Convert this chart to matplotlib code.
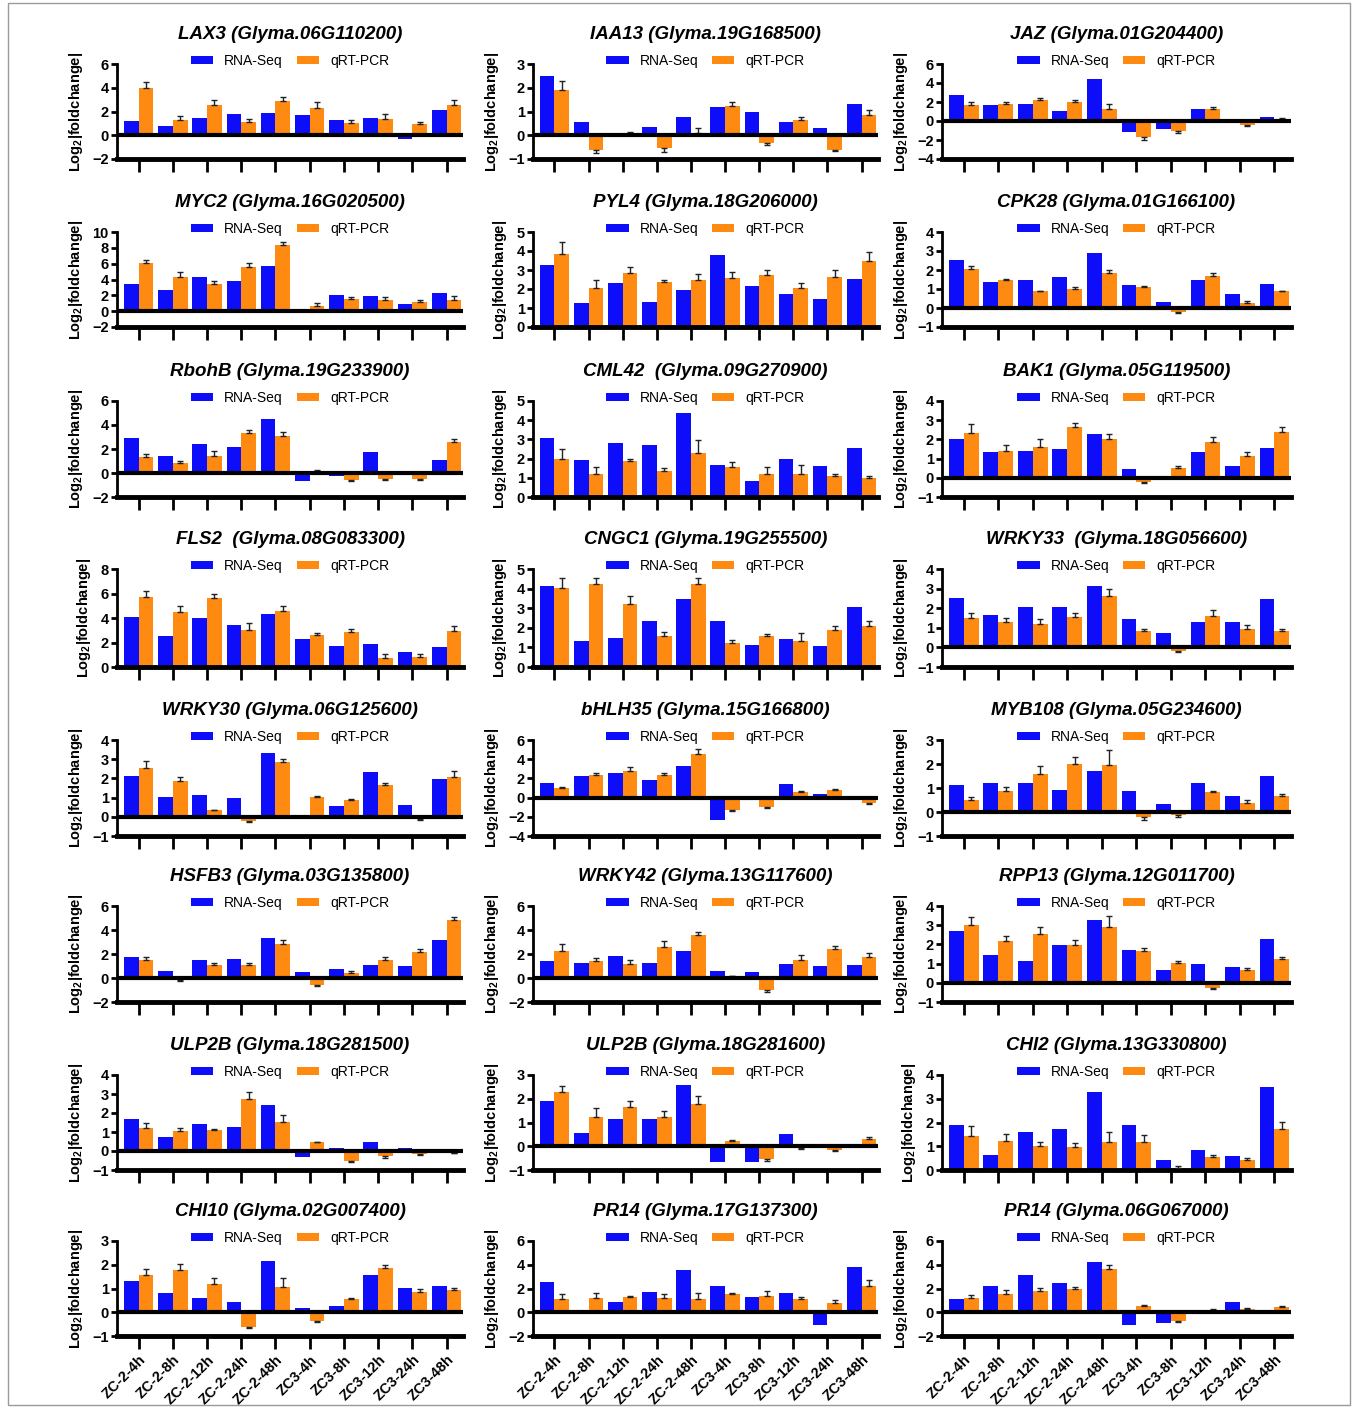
import matplotlib
matplotlib.use("Agg")
import matplotlib.pyplot as plt
from matplotlib.patches import Rectangle
import numpy as np

samples = ["ZC-2-4h", "ZC-2-8h", "ZC-2-12h", "ZC-2-24h", "ZC-2-48h",
           "ZC3-4h", "ZC3-8h", "ZC3-12h", "ZC3-24h", "ZC3-48h"]

# log2 fold change: RNA-Seq, qRT-PCR mean, qRT-PCR error
lax3_rna = [1.24, 0.77, 1.43, 1.8, 1.88, 1.74, 1.27, 1.43, -0.35, 2.15]
lax3_qpcr = [3.95, 1.3, 2.57, 1.1, 2.85, 2.3, 1.02, 1.4, 0.97, 2.57]
lax3_err = [0.55, 0.35, 0.38, 0.28, 0.38, 0.46, 0.25, 0.4, 0.13, 0.38]

iaa13_rna = [2.48, 0.57, 0.07, 0.35, 0.77, 1.19, 0.99, 0.56, 0.32, 1.32]
iaa13_qpcr = [1.9, -0.6, 0.08, -0.55, 0.08, 1.24, -0.33, 0.65, -0.6, 0.84]
iaa13_err = [0.37, 0.15, 0.07, 0.17, 0.24, 0.15, 0.09, 0.13, 0.06, 0.23]

jaz_rna = [2.72, 1.64, 1.81, 1.01, 4.46, -1.15, -0.8, 1.29, 0.17, 0.45]
jaz_qpcr = [1.67, 1.78, 2.2, 1.95, 1.25, -1.7, -1.0, 1.22, -0.4, 0.17]
jaz_err = [0.35, 0.21, 0.27, 0.31, 0.56, 0.3, 0.25, 0.28, 0.15, 0.13]

myc2_rna = [3.4, 2.72, 4.34, 3.79, 5.74, -0.2, 2.0, 1.87, 0.94, 2.3]
myc2_qpcr = [6.04, 4.34, 3.4, 5.6, 8.34, 0.68, 1.49, 1.36, 1.19, 1.45]
myc2_err = [0.43, 0.64, 0.43, 0.5, 0.46, 0.32, 0.3, 0.43, 0.26, 0.42]

pyl4_rna = [3.25, 1.25, 2.3, 1.3, 1.95, 3.8, 2.15, 1.75, 1.5, 2.55]
pyl4_qpcr = [3.85, 2.05, 2.85, 2.35, 2.45, 2.6, 2.75, 2.05, 2.65, 3.5]
pyl4_err = [0.65, 0.45, 0.3, 0.15, 0.35, 0.3, 0.25, 0.25, 0.35, 0.45]

cpk28_rna = [2.55, 1.35, 1.45, 1.65, 2.9, 1.2, 0.32, 1.48, 0.75, 1.28]
cpk28_qpcr = [2.05, 1.45, 0.87, 1.0, 1.83, 1.1, -0.22, 1.68, 0.25, 0.87]
cpk28_err = [0.15, 0.07, 0.03, 0.1, 0.17, 0.08, 0.06, 0.14, 0.1, 0.03]

rbohb_rna = [2.9, 1.45, 2.45, 2.2, 4.5, -0.7, -0.25, 1.75, 0.0, 1.05]
rbohb_qpcr = [1.35, 0.8, 1.45, 3.3, 3.05, 0.15, -0.6, -0.5, -0.5, 2.55]
rbohb_err = [0.25, 0.2, 0.35, 0.3, 0.35, 0.07, 0.1, 0.1, 0.1, 0.3]

cml42_rna = [3.05, 1.95, 2.8, 2.7, 4.4, 1.65, 0.85, 2.0, 1.6, 2.55]
cml42_qpcr = [1.98, 1.22, 1.85, 1.37, 2.28, 1.55, 1.2, 1.22, 1.1, 0.97]
cml42_err = [0.52, 0.35, 0.12, 0.15, 0.67, 0.25, 0.35, 0.43, 0.1, 0.1]

bak1_rna = [2.0, 1.35, 1.4, 1.5, 2.27, 0.47, 0.0, 1.32, 0.62, 1.55]
bak1_qpcr = [2.35, 1.4, 1.62, 2.65, 2.0, -0.2, 0.53, 1.88, 1.12, 2.37]
bak1_err = [0.43, 0.3, 0.41, 0.2, 0.3, 0.05, 0.09, 0.22, 0.21, 0.25]

fls2_rna = [4.05, 2.5, 4.0, 3.4, 4.3, 2.25, 1.68, 1.9, 1.25, 1.62]
fls2_qpcr = [5.72, 4.5, 5.65, 2.98, 4.55, 2.58, 2.83, 0.72, 0.85, 2.97]
fls2_err = [0.48, 0.45, 0.35, 0.6, 0.45, 0.2, 0.25, 0.33, 0.2, 0.38]

cngc1_rna = [4.15, 1.35, 1.5, 2.35, 3.45, 2.37, 1.12, 1.45, 1.07, 3.05]
cngc1_qpcr = [4.02, 4.22, 3.22, 1.58, 4.25, 1.25, 1.58, 1.33, 1.9, 2.08]
cngc1_err = [0.53, 0.33, 0.4, 0.19, 0.3, 0.13, 0.09, 0.42, 0.17, 0.27]

wrky33_rna = [2.5, 1.65, 2.05, 2.05, 3.15, 1.45, 0.72, 1.3, 1.3, 2.47]
wrky33_qpcr = [1.52, 1.28, 1.18, 1.55, 2.6, 0.83, -0.2, 1.58, 0.95, 0.83]
wrky33_err = [0.23, 0.2, 0.27, 0.2, 0.37, 0.12, 0.05, 0.35, 0.17, 0.12]

wrky30_rna = [2.1, 1.02, 1.15, 1.0, 3.33, 0.0, 0.55, 2.33, 0.6, 1.97]
wrky30_qpcr = [2.55, 1.88, 0.33, -0.2, 2.88, 1.03, 0.85, 1.65, -0.12, 2.05]
wrky30_err = [0.35, 0.17, 0.05, 0.05, 0.12, 0.07, 0.1, 0.13, 0.05, 0.33]

bhlh35_rna = [1.55, 2.3, 2.6, 1.85, 3.25, -2.35, 0.0, 1.45, 0.42, 0.0]
bhlh35_qpcr = [0.95, 2.35, 2.78, 2.35, 4.5, -1.25, -1.0, 0.58, 0.8, -0.55]
bhlh35_err = [0.17, 0.2, 0.37, 0.25, 0.6, 0.15, 0.1, 0.07, 0.1, 0.13]

myb108_rna = [1.12, 1.22, 1.2, 0.93, 1.7, 0.87, 0.35, 1.2, 0.67, 1.5]
myb108_qpcr = [0.52, 0.88, 1.58, 2.0, 1.97, -0.2, -0.12, 0.83, 0.38, 0.65]
myb108_err = [0.11, 0.17, 0.35, 0.28, 0.61, 0.13, 0.1, 0.05, 0.1, 0.1]

hsfb3_rna = [1.72, 0.62, 1.48, 1.62, 3.3, 0.5, 0.72, 1.07, 0.97, 3.15]
hsfb3_qpcr = [1.5, -0.18, 1.08, 1.1, 2.85, -0.62, 0.45, 1.5, 2.15, 4.8]
hsfb3_err = [0.22, 0.07, 0.17, 0.18, 0.33, 0.08, 0.15, 0.25, 0.27, 0.3]

wrky42_rna = [1.45, 1.22, 1.85, 1.22, 2.22, 0.6, 0.47, 1.15, 1.02, 1.07]
wrky42_qpcr = [2.28, 1.4, 1.18, 2.62, 3.58, 0.15, -1.02, 1.5, 2.38, 1.75]
wrky42_err = [0.52, 0.3, 0.3, 0.48, 0.27, 0.05, 0.18, 0.4, 0.27, 0.3]

rpp13_rna = [2.68, 1.45, 1.15, 1.98, 3.28, 1.72, 0.67, 0.98, 0.82, 2.28]
rpp13_qpcr = [3.02, 2.2, 2.55, 1.97, 2.9, 1.68, 1.05, -0.25, 0.68, 1.22]
rpp13_err = [0.4, 0.22, 0.35, 0.28, 0.58, 0.12, 0.07, 0.07, 0.1, 0.1]

ulp2b_a_rna = [1.68, 0.73, 1.4, 1.25, 2.43, -0.3, 0.15, 0.45, 0.18, 0.0]
ulp2b_a_qpcr = [1.22, 1.05, 1.12, 2.75, 1.53, 0.45, -0.55, -0.25, -0.18, -0.08]
ulp2b_a_err = [0.26, 0.15, 0.05, 0.35, 0.37, 0.05, 0.05, 0.1, 0.04, 0.02]

ulp2b_b_rna = [1.92, 0.55, 1.15, 1.15, 2.58, -0.65, -0.68, 0.52, -0.08, -0.08]
ulp2b_b_qpcr = [2.3, 1.25, 1.65, 1.22, 1.8, 0.22, -0.52, -0.08, -0.15, 0.32]
ulp2b_b_err = [0.25, 0.35, 0.25, 0.25, 0.3, 0.05, 0.1, 0.02, 0.05, 0.05]

chi2_rna = [1.9, 0.65, 1.6, 1.72, 3.3, 1.9, 0.42, 0.85, 0.58, 3.5]
chi2_qpcr = [1.43, 1.23, 1.0, 0.97, 1.2, 1.2, 0.1, 0.53, 0.43, 1.72]
chi2_err = [0.42, 0.29, 0.2, 0.18, 0.4, 0.27, 0.05, 0.12, 0.07, 0.3]

chi10_rna = [1.3, 0.8, 0.62, 0.43, 2.17, 0.2, 0.28, 1.58, 1.02, 1.12]
chi10_qpcr = [1.55, 1.77, 1.18, -0.62, 1.05, -0.37, 0.55, 1.85, 0.85, 0.93]
chi10_err = [0.28, 0.25, 0.27, 0.06, 0.38, 0.03, 0.07, 0.12, 0.12, 0.1]

pr14_a_rna = [2.55, 0.15, 0.9, 1.72, 3.55, 2.18, 1.25, 1.58, -1.1, 3.85]
pr14_a_qpcr = [1.13, 1.2, 1.25, 1.2, 1.1, 1.55, 1.4, 1.1, 0.82, 2.18]
pr14_a_err = [0.37, 0.45, 0.13, 0.35, 0.5, 0.1, 0.35, 0.18, 0.18, 0.52]

pr14_b_rna = [1.12, 2.2, 3.12, 2.5, 4.2, -1.05, -0.88, 0.0, 0.83, 0.0]
pr14_b_qpcr = [1.2, 1.55, 1.75, 1.95, 3.65, 0.52, -0.7, 0.15, 0.3, 0.45]
pr14_b_err = [0.22, 0.3, 0.3, 0.17, 0.35, 0.13, 0.08, 0.1, 0.08, 0.07]

# (gene, locus, rna, qpcr, err, ylim, ytick step)
panels = [
    ("LAX3", "Glyma.06G110200", lax3_rna, lax3_qpcr, lax3_err, (-2, 6), 2),
    ("IAA13", "Glyma.19G168500", iaa13_rna, iaa13_qpcr, iaa13_err, (-1, 3), 1),
    ("JAZ", "Glyma.01G204400", jaz_rna, jaz_qpcr, jaz_err, (-4, 6), 2),
    ("MYC2", "Glyma.16G020500", myc2_rna, myc2_qpcr, myc2_err, (-2, 10), 2),
    ("PYL4", "Glyma.18G206000", pyl4_rna, pyl4_qpcr, pyl4_err, (0, 5), 1),
    ("CPK28", "Glyma.01G166100", cpk28_rna, cpk28_qpcr, cpk28_err, (-1, 4), 1),
    ("RbohB", "Glyma.19G233900", rbohb_rna, rbohb_qpcr, rbohb_err, (-2, 6), 2),
    ("CML42 ", "Glyma.09G270900", cml42_rna, cml42_qpcr, cml42_err, (0, 5), 1),
    ("BAK1", "Glyma.05G119500", bak1_rna, bak1_qpcr, bak1_err, (-1, 4), 1),
    ("FLS2 ", "Glyma.08G083300", fls2_rna, fls2_qpcr, fls2_err, (0, 8), 2),
    ("CNGC1", "Glyma.19G255500", cngc1_rna, cngc1_qpcr, cngc1_err, (0, 5), 1),
    ("WRKY33 ", "Glyma.18G056600", wrky33_rna, wrky33_qpcr, wrky33_err, (-1, 4), 1),
    ("WRKY30", "Glyma.06G125600", wrky30_rna, wrky30_qpcr, wrky30_err, (-1, 4), 1),
    ("bHLH35", "Glyma.15G166800", bhlh35_rna, bhlh35_qpcr, bhlh35_err, (-4, 6), 2),
    ("MYB108", "Glyma.05G234600", myb108_rna, myb108_qpcr, myb108_err, (-1, 3), 1),
    ("HSFB3", "Glyma.03G135800", hsfb3_rna, hsfb3_qpcr, hsfb3_err, (-2, 6), 2),
    ("WRKY42", "Glyma.13G117600", wrky42_rna, wrky42_qpcr, wrky42_err, (-2, 6), 2),
    ("RPP13", "Glyma.12G011700", rpp13_rna, rpp13_qpcr, rpp13_err, (-1, 4), 1),
    ("ULP2B", "Glyma.18G281500", ulp2b_a_rna, ulp2b_a_qpcr, ulp2b_a_err, (-1, 4), 1),
    ("ULP2B", "Glyma.18G281600", ulp2b_b_rna, ulp2b_b_qpcr, ulp2b_b_err, (-1, 3), 1),
    ("CHI2", "Glyma.13G330800", chi2_rna, chi2_qpcr, chi2_err, (0, 4), 1),
    ("CHI10", "Glyma.02G007400", chi10_rna, chi10_qpcr, chi10_err, (-1, 3), 1),
    ("PR14", "Glyma.17G137300", pr14_a_rna, pr14_a_qpcr, pr14_a_err, (-2, 6), 2),
    ("PR14", "Glyma.06G067000", pr14_b_rna, pr14_b_qpcr, pr14_b_err, (-2, 6), 2),
]

BLUE = "#0d0dfa"
ORANGE = "#ff8a12"
W, H = 1357, 1409

# pixel geometry of the grid
col_x = [(117, 463), (533, 878), (942, 1291)]
row_y = [(64, 159), (232, 327), (401, 497), (569, 667),
         (740, 836), (906, 1002), (1075, 1170), (1241, 1336)]

plt.rcParams["font.family"] = ["Liberation Sans", "DejaVu Sans"]
plt.rcParams["mathtext.fontset"] = "custom"
plt.rcParams["mathtext.rm"] = "Liberation Sans"
plt.rcParams["mathtext.it"] = "Liberation Sans:italic:bold"
plt.rcParams["mathtext.bf"] = "Liberation Sans:bold"

fig = plt.figure(figsize=(W / 100, H / 100), dpi=100)
fig.patches.append(Rectangle((8 / W, 1 - 1405 / H), 1342 / W, 1402 / H,
                             transform=fig.transFigure, fill=False,
                             edgecolor="#9a9a9a", lw=1))

x = np.arange(len(samples))
bw = 0.43

for k, (gene, locus, rna, qpcr, err, ylim, step) in enumerate(panels):
    r, c = divmod(k, 3)
    x0, x1 = col_x[c]
    y0, y1 = row_y[r]
    ax = fig.add_axes([x0 / W, 1 - y1 / H, (x1 - x0) / W, (y1 - y0) / H])

    qpcr = np.array(qpcr)
    err = np.array(err)
    upper = np.where(qpcr >= 0, err, 0)
    lower = np.where(qpcr < 0, err, 0)

    ax.bar(x - bw / 2, rna, bw, color=BLUE, label="RNA-Seq", zorder=2)
    ax.bar(x + bw / 2, qpcr, bw, color=ORANGE, label="qRT-PCR", zorder=2)
    ax.errorbar(x + bw / 2, qpcr, yerr=[lower, upper], fmt="none",
                ecolor="#222222", elinewidth=1, capsize=2.5, capthick=1, zorder=3)

    ax.set_xlim(-0.63, 9.48)
    ax.set_ylim(*ylim)
    ax.set_yticks(np.arange(ylim[0], ylim[1] + 0.01, step))
    if ylim[0] < 0:
        ax.axhline(0, color="black", lw=3, zorder=4)

    for s in ("top", "right"):
        ax.spines[s].set_visible(False)
    ax.spines["left"].set_linewidth(2)
    ax.spines["bottom"].set_linewidth(3.5)
    ax.tick_params(axis="y", width=2, length=4, labelsize=10.5, pad=2)
    ax.tick_params(axis="x", width=2, length=9, pad=3)
    for t in ax.get_yticklabels():
        t.set_fontweight("bold")

    ax.set_xticks(x)
    if r == len(row_y) - 1:
        ax.set_xticklabels(samples, rotation=45, ha="right",
                           rotation_mode="anchor", fontsize=10.5,
                           fontweight="bold")
    else:
        ax.set_xticklabels([])

    ax.set_title(gene + " (" + locus + ")", fontsize=13.5, fontweight="bold",
                 fontstyle="italic", pad=18)
    ax.set_ylabel(r"Log$_\mathbf{2}$|foldchange|", fontsize=10.5,
                  fontweight="bold", labelpad=5)
    ax.legend(loc="center", bbox_to_anchor=(0.5, 1.03), ncol=2, frameon=False,
              fontsize=10, handlelength=1.6, handleheight=0.5,
              columnspacing=1.0, handletextpad=0.8, borderaxespad=0)

fig.savefig("out.png", dpi=100)
